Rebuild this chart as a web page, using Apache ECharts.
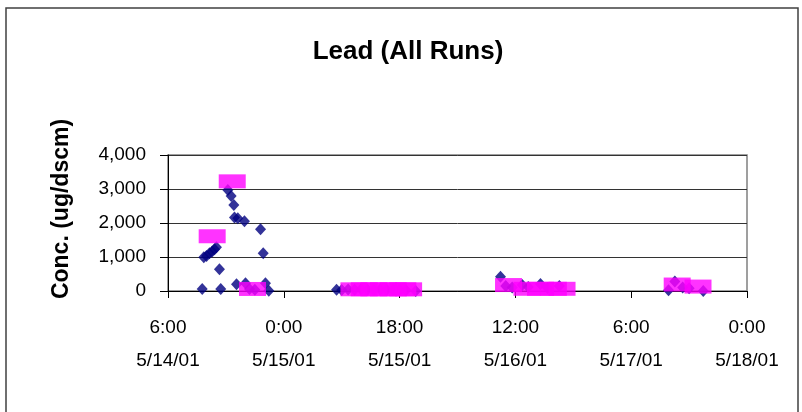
<!DOCTYPE html>
<html>
<head>
<meta charset="utf-8">
<script src="https://cdn.jsdelivr.net/npm/echarts@6/dist/echarts.min.js"></script>
<style>
html,body{margin:0;padding:0;background:#fff;}
#c{width:802px;height:412px;}
</style>
</head>
<body>
<div id="c"></div>
<script>
// ---- data ----
const chartTitle = "Lead (All Runs)";
const yAxisTitle = "Conc. (ug/dscm)";

// individual lead measurements (navy diamonds)
const leadTimes = [
  "5/14/01 11:19","5/14/01 11:34","5/14/01 11:59","5/14/01 12:27","5/14/01 12:52",
  "5/14/01 13:14","5/14/01 13:32","5/14/01 14:00","5/14/01 14:12","5/14/01 15:18",
  "5/14/01 15:49","5/14/01 16:14","5/14/01 16:20","5/14/01 16:39","5/14/01 16:51",
  "5/14/01 17:53","5/14/01 18:03","5/14/01 18:40","5/14/01 19:30","5/14/01 20:23",
  "5/14/01 20:48","5/14/01 21:09","5/14/01 21:40",
  "5/15/01 8:12","5/15/01 9:00","5/15/01 10:00","5/15/01 11:00","5/15/01 12:00",
  "5/15/01 13:00","5/15/01 14:00","5/15/01 15:00","5/15/01 16:00","5/15/01 17:00",
  "5/15/01 18:00","5/15/01 19:00","5/15/01 20:30",
  "5/16/01 9:41","5/16/01 10:30","5/16/01 11:30","5/16/01 13:04","5/16/01 14:00",
  "5/16/01 15:54","5/16/01 17:00","5/16/01 18:50",
  "5/17/01 11:48","5/17/01 12:47","5/17/01 14:00","5/17/01 15:00","5/17/01 17:12"
];
const leadValues = [
  60, 990, 1030, 1110, 1160,
  1230, 1285, 640, 60, 2970,
  2795, 2530, 2165, 200, 2140,
  2050, 225, 60, 40, 1815,
  1110, 225, 10,
  40, 30, 45, 35, 50,
  40, 30, 45, 35, 40,
  30, 25, 0,
  420, 150, 100, 175, 120,
  205, 90, 145,
  20, 280, 100, 80, 0
];

// run averages (magenta rectangles)
const avgTimes = [
  "5/14/01 12:52","5/14/01 15:59","5/14/01 19:08",
  "5/15/01 10:54","5/15/01 12:30","5/15/01 14:00","5/15/01 15:30","5/15/01 17:00","5/15/01 18:30","5/15/01 19:24",
  "5/16/01 10:56","5/16/01 13:48","5/16/01 15:54","5/16/01 17:54","5/16/01 19:15",
  "5/17/01 13:09","5/17/01 16:23"
];
const avgValues = [
  1610, 3225, 60,
  50, 50, 50, 50, 50, 50, 50,
  175, 65, 65, 65, 65,
  190, 130
];

// axis ticks
const xStart = "5/14/01 6:00";
const xSpanHours = 90;
const xStepHours = 18;
const xTickLabels = ["6:00\n5/14/01","0:00\n5/15/01","18:00\n5/15/01","12:00\n5/16/01","6:00\n5/17/01","0:00\n5/18/01"];
const yTickLabels = ["0","1,000","2,000","3,000","4,000"];
const yMax = 4000, yStep = 1000;

// ---- helpers ----
function toMs(s){
  const [d,t] = s.split(" ");
  const [mo,da,yr] = d.split("/").map(Number);
  const [h,mi] = t.split(":").map(Number);
  return Date.UTC(2000+yr, mo-1, da, h, mi);
}
const base = toMs(xStart);
function toHours(s){ return (toMs(s)-base)/3600000; }

const leadData = leadTimes.map((t,i)=>[toHours(t), leadValues[i]]);
const avgData = avgTimes.map((t,i)=>[toHours(t), avgValues[i]]);

const FONT = "'Liberation Sans', Arial, Helvetica, sans-serif";
const chart = echarts.init(document.getElementById('c'), null, {renderer:'canvas'});
chart.setOption({
  animation:false,
  backgroundColor:'#ffffff',
  title:{
    text: chartTitle, left: 403, top: 34, textAlign:'center',
    textStyle:{fontFamily:FONT, fontSize:26, fontWeight:'bold', color:'#000'}
  },
  graphic:[
    {
      type:'rect', shape:{x:6, y:8, width:792, height:420},
      style:{fill:'none', stroke:'#404040', lineWidth:1.5}, silent:true, z:-1
    },
    {
      type:'text', x:62, y:209, rotation:Math.PI/2, silent:true,
      style:{text:yAxisTitle, fill:'#000', font:"bold 23px " + FONT, textAlign:'center', textVerticalAlign:'middle'}
    }
  ],
  grid:{left:168, right:55, top:155, bottom:121, show:true, borderColor:'#808080', borderWidth:1.5, backgroundColor:'transparent'},
  xAxis:{
    type:'value', min:0, max:xSpanHours, interval:xStepHours,
    axisLine:{show:true, onZero:false, lineStyle:{color:'#000', width:1}},
    axisTick:{show:true, length:7, inside:false, lineStyle:{color:'#000'}},
    splitLine:{show:false},
    axisLabel:{
      fontFamily:FONT, fontSize:19, color:'#000', margin:20, lineHeight:33,
      formatter:(v)=>xTickLabels[Math.round(v/xStepHours)]
    }
  },
  yAxis:{
    type:'value', min:0, max:yMax, interval:yStep,
    axisLine:{show:true, lineStyle:{color:'#000', width:1}},
    axisTick:{show:true, length:8, lineStyle:{color:'#000'}},
    splitLine:{show:true, lineStyle:{color:'#333', width:1}},
    axisLabel:{
      fontFamily:FONT, fontSize:19, color:'#000', margin:22,
      formatter:(v)=>yTickLabels[Math.round(v/yStep)]
    }
  },
  series:[
    {
      name:'Lead', type:'scatter', data:leadData,
      symbol:'diamond', symbolSize:[11,12],
      itemStyle:{color:'#000080'}, z:2
    },
    {
      name:'Run Average', type:'scatter', data:avgData,
      symbol:'rect', symbolSize:[27,14],
      itemStyle:{color:'#ff00ff'}, z:3
    }
  ]
});
</script>
</body>
</html>
